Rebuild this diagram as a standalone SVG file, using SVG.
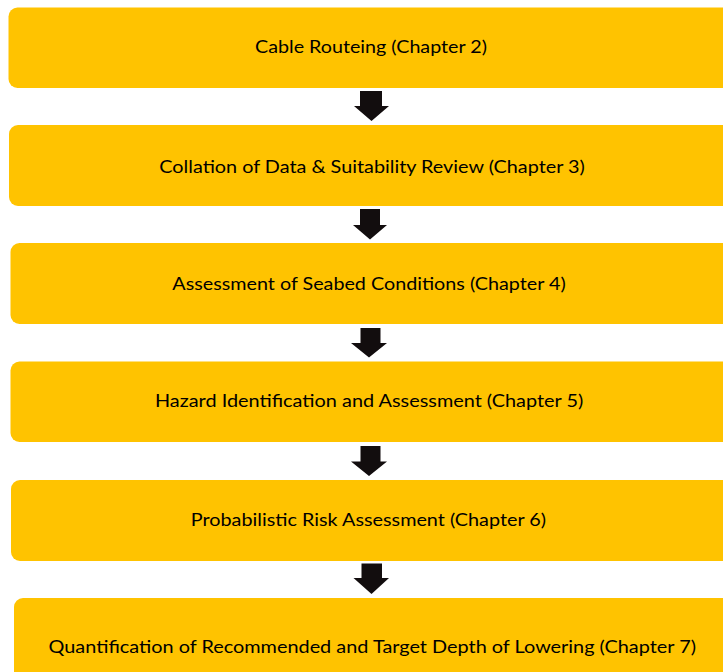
<svg xmlns="http://www.w3.org/2000/svg" width="723" height="672" viewBox="0 0 723 672">
<style>
.box{fill:#FFC300;}
.lbl{font-family:Lato,"Liberation Sans",sans-serif;font-size:18px;fill:#000;}
.arr{fill:#120D0E;}
</style>
<rect x="0" y="0" width="723" height="672" fill="#fff"/>
<g id="node1"><rect class="box" x="8.5" y="7.5" width="740" height="80.5" rx="9"/><text class="lbl" x="255" y="53.3" textLength="232" lengthAdjust="spacingAndGlyphs">Cable Routeing (Chapter 2)</text></g>
<g id="node2"><rect class="box" x="9" y="125" width="740" height="81" rx="9"/><text class="lbl" x="159.3" y="172.5" textLength="425.5" lengthAdjust="spacingAndGlyphs">Collation of Data &amp; Suitability Review (Chapter 3)</text></g>
<g id="node3"><rect class="box" x="10.5" y="243" width="740" height="81" rx="9"/><text class="lbl" x="172.3" y="290" textLength="393.4" lengthAdjust="spacingAndGlyphs">Assessment of Seabed Conditions (Chapter 4)</text></g>
<g id="node4"><rect class="box" x="10.5" y="361.5" width="740" height="80.5" rx="9"/><text class="lbl" x="155" y="406.7" textLength="428.3" lengthAdjust="spacingAndGlyphs">Hazard Identification and Assessment (Chapter 5)</text></g>
<g id="node5"><rect class="box" x="11" y="480" width="740" height="81" rx="9"/><text class="lbl" x="190.8" y="526" textLength="355.2" lengthAdjust="spacingAndGlyphs">Probabilistic Risk Assessment (Chapter 6)</text></g>
<g id="node6"><rect class="box" x="14" y="598" width="740" height="100" rx="9"/><text class="lbl" x="48.5" y="652.7" textLength="647.5" lengthAdjust="spacingAndGlyphs">Quantification of Recommended and Target Depth of Lowering (Chapter 7)</text></g>
<g id="connectors">
<polygon class="arr" points="360,91 382,91 382,106 389,106 371.5,121 354,106 360,106"/>
<polygon class="arr" points="360,209 380,209 380,225 387,225 370,239.5 353,225 360,225"/>
<polygon class="arr" points="360.5,328 380.5,328 380.5,343 387,343 369,357.5 351,343 360.5,343"/>
<polygon class="arr" points="360.5,446 380.5,446 380.5,461.5 387,461.5 369,476 351,461.5 360.5,461.5"/>
<polygon class="arr" points="361.5,563.5 382,563.5 382,578 389,578 371.5,594 353.5,578 361.5,578"/>
</g>
</svg>
